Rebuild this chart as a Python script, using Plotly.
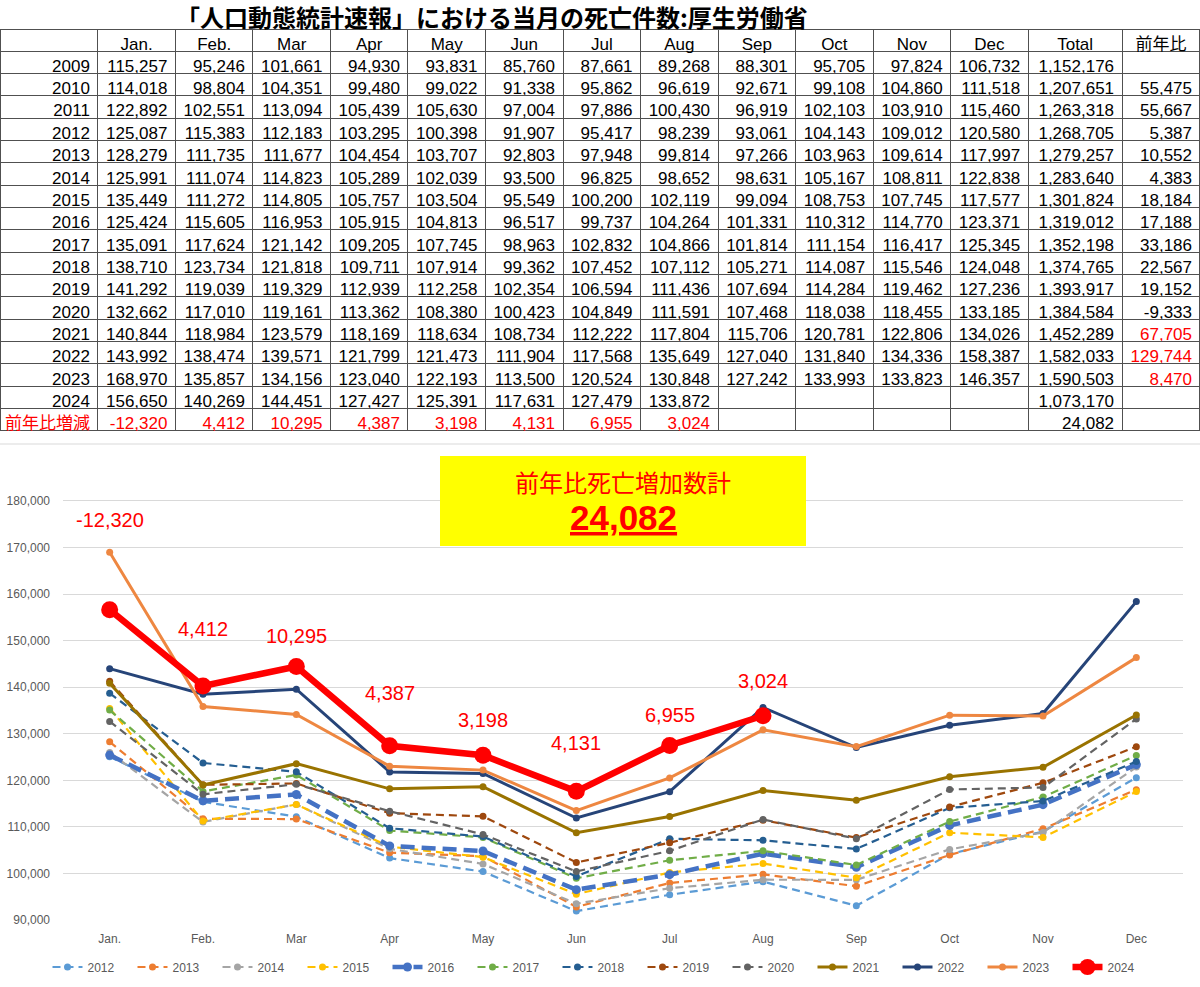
import plotly.graph_objects as go

months = ["Jan.", "Feb.", "Mar", "Apr", "May", "Jun", "Jul", "Aug", "Sep", "Oct", "Nov", "Dec"]

y2009 = [115257, 95246, 101661, 94930, 93831, 85760, 87661, 89268, 88301, 95705, 97824, 106732]
y2010 = [114018, 98804, 104351, 99480, 99022, 91338, 95862, 96619, 92671, 99108, 104860, 111518]
y2011 = [122892, 102551, 113094, 105439, 105630, 97004, 97886, 100430, 96919, 102103, 103910, 115460]
y2012 = [125087, 115383, 112183, 103295, 100398, 91907, 95417, 98239, 93061, 104143, 109012, 120580]
y2013 = [128279, 111735, 111677, 104454, 103707, 92803, 97948, 99814, 97266, 103963, 109614, 117997]
y2014 = [125991, 111074, 114823, 105289, 102039, 93500, 96825, 98652, 98631, 105167, 108811, 122838]
y2015 = [135449, 111272, 114805, 105757, 103504, 95549, 100200, 102119, 99094, 108753, 107745, 117577]
y2016 = [125424, 115605, 116953, 105915, 104813, 96517, 99737, 104264, 101331, 110312, 114770, 123371]
y2017 = [135091, 117624, 121142, 109205, 107745, 98963, 102832, 104866, 101814, 111154, 116417, 125345]
y2018 = [138710, 123734, 121818, 109711, 107914, 99362, 107452, 107112, 105271, 114087, 115546, 124048]
y2019 = [141292, 119039, 119329, 112939, 112258, 102354, 106594, 111436, 107694, 114284, 119462, 127236]
y2020 = [132662, 117010, 119161, 113362, 108380, 100423, 104849, 111591, 107468, 118038, 118455, 133185]
y2021 = [140844, 118984, 123579, 118169, 118634, 108734, 112222, 117804, 115706, 120781, 122806, 134026]
y2022 = [143992, 138474, 139571, 121799, 121473, 111904, 117568, 135649, 127040, 131840, 134336, 158387]
y2023 = [168970, 135857, 134156, 123040, 122193, 113500, 120524, 130848, 127242, 133993, 133823, 146357]
y2024 = [156650, 140269, 144451, 127427, 125391, 117631, 127479, 133872]

totals = [1152176, 1207651, 1263318, 1268705, 1279257, 1283640, 1301824, 1319012,
          1352198, 1374765, 1393917, 1384584, 1452289, 1582033, 1590503, 1073170]

years = list(range(2009, 2025))
deaths = dict(zip(years, [y2009, y2010, y2011, y2012, y2013, y2014, y2015, y2016,
                          y2017, y2018, y2019, y2020, y2021, y2022, y2023, y2024]))
chart_years = years[3:]

# year-on-year change for the months of 2024
diff = [a - b for a, b in zip(y2024, y2023)]
# full-year change, 2010..2023 (2024 is not a full year)
yoy = [t - p for t, p in zip(totals[1:-1], totals[:-2])]
red_yoy = {2021, 2022, 2023}

# line styles (color, width, dash, marker size)
styles = {
    2012: ("#5B9BD5", 2.2, "8px,5px", 7),
    2013: ("#ED7D31", 2.2, "8px,5px", 7),
    2014: ("#A5A5A5", 2.2, "8px,5px", 7),
    2015: ("#FFC000", 2.2, "8px,5px", 7),
    2016: ("#4472C4", 4.5, "14px,7px", 9),
    2017: ("#70AD47", 2.2, "8px,5px", 7),
    2018: ("#255E91", 2.2, "8px,5px", 7),
    2019: ("#9E480E", 2.2, "8px,5px", 7),
    2020: ("#636363", 2.2, "8px,5px", 7),
    2021: ("#997300", 3, "solid", 7),
    2022: ("#264478", 3, "solid", 7),
    2023: ("#EE8741", 3, "solid", 7),
    2024: ("#FF0000", 6.5, "solid", 17),
}
label_shift = [90, 57, 30, 53, 35, 48, 31, 35]

fmt = lambda v: f"{v:,}"

# ---- table ----
cols = [[str(y) for y in years] + ["前年比増減"]]
colors = [["black"] * len(years) + ["red"]]
for i in range(12):
    c = [fmt(deaths[y][i]) if i < len(deaths[y]) else "" for y in years]
    c.append(fmt(diff[i]) if i < len(diff) else "")
    cols.append(c)
    colors.append(["black"] * len(years) + ["red"])
cols.append([fmt(t) for t in totals] + [fmt(sum(diff))])
colors.append(["black"] * (len(years) + 1))
cols.append([""] + [fmt(v) for v in yoy] + ["", ""])
colors.append(["black"] + ["red" if y in red_yoy else "black" for y in years[1:]] + ["black"])

fig = go.Figure()
fig.add_trace(go.Table(
    domain=dict(x=[0, 1], y=[1 - 431 / 987, 1 - 29 / 987]),
    columnwidth=[98] + [77.6] * 12 + [94, 78],
    header=dict(values=[""] + months + ["Total", "前年比"],
                align="center", height=22,
                fill_color="white", line=dict(color="#505050", width=1),
                font=dict(family="Liberation Sans, Noto Sans CJK JP", size=17, color="black")),
    cells=dict(values=cols, align="right", height=22.35,
               fill_color="white", line=dict(color="#505050", width=1),
               font=dict(family="Liberation Sans, Noto Sans CJK JP", size=17, color=colors)),
))

# ---- line chart ----
for y in chart_years:
    color, width, dash, msize = styles[y]
    fig.add_trace(go.Scatter(
        x=months[:len(deaths[y])], y=deaths[y], name=str(y),
        mode="lines+markers",
        line=dict(color=color, width=width, dash=dash),
        marker=dict(color=color, size=msize),
        xaxis="x", yaxis="y",
    ))

for i, d in enumerate(diff):
    fig.add_annotation(x=months[i], y=y2024[i], xref="x", yref="y", text=fmt(d),
                       showarrow=False, yshift=label_shift[i],
                       font=dict(family="Liberation Sans", size=20, color="#FF0000"))

# title
fig.add_annotation(x=492 / 1200, y=1 - 16 / 987, xref="paper", yref="paper",
                   xanchor="center", yanchor="middle",
                   text="<b>「人口動態統計速報」における当月の死亡件数:厚生労働省</b>",
                   showarrow=False, font=dict(family="Noto Sans CJK JP", size=24, color="black"))

# yellow box
fig.add_shape(type="rect", xref="paper", yref="paper",
              x0=440 / 1200, x1=806 / 1200, y0=1 - 546 / 987, y1=1 - 456 / 987,
              fillcolor="#FFFF00", line=dict(width=0), layer="above")
fig.add_annotation(x=623 / 1200, y=1 - 481 / 987, xref="paper", yref="paper",
                   yanchor="middle", text="前年比死亡増加数計", showarrow=False,
                   font=dict(family="Noto Sans CJK JP", size=24, color="#FF0000"))
fig.add_annotation(x=623 / 1200, y=1 - 517 / 987, xref="paper", yref="paper",
                   yanchor="middle", text=f"<b><u>{fmt(sum(diff))}</u></b>", showarrow=False,
                   font=dict(family="Liberation Sans", size=35, color="#FF0000"))

# chart border top
fig.add_shape(type="line", xref="paper", yref="paper", x0=0, x1=1,
              y0=1 - 444 / 987, y1=1 - 444 / 987, line=dict(color="#D9D9D9", width=1))

fig.update_layout(
    width=1200, height=987,
    margin=dict(l=0, r=0, t=0, b=0),
    paper_bgcolor="white", plot_bgcolor="white",
    showlegend=True,
    xaxis=dict(domain=[63 / 1200, 1183 / 1200], type="category", range=[-0.5, 11.5],
               categoryorder="array", categoryarray=months,
               showgrid=False, showline=False, zeroline=False, automargin=False,
               ticklabelstandoff=10,
               tickfont=dict(family="Liberation Sans", size=12, color="#595959")),
    yaxis=dict(domain=[1 - 920 / 987, 1 - 444 / 987], range=[90000, 192240],
               tickvals=list(range(90000, 180001, 10000)), tickformat=",",
               showgrid=True, gridcolor="#D9D9D9", gridwidth=1, zeroline=False,
               showline=False, automargin=False, ticklabelstandoff=12,
               tickfont=dict(family="Liberation Sans", size=12, color="#595959")),
    legend=dict(orientation="h", x=0.5, xanchor="center", y=1 - 967 / 987, yanchor="middle",
                entrywidth=40, entrywidthmode="pixels",
                font=dict(family="Liberation Sans", size=12, color="#595959"),
                bgcolor="rgba(0,0,0,0)"),
)

fig.write_html("out.html", config={"displayModeBar": False},
               post_script="document.body.style.margin='0';")
